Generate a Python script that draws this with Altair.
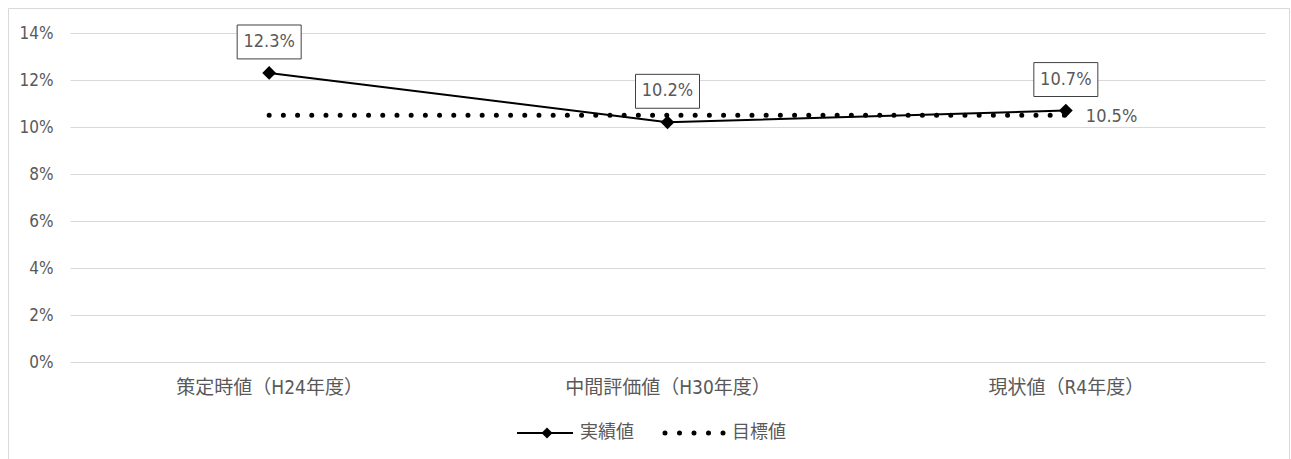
import altair as alt
import pandas as pd

# Stages, measured values and the target value
stages = ["策定時値（H24年度）", "中間評価値（H30年度）", "現状値（R4年度）"]
actual = [12.3, 10.2, 10.7]
target = [10.5, 10.5, 10.5]
series_names = ["実績値", "目標値"]
y_ticks = [0, 2, 4, 6, 8, 10, 12, 14]

FONT = "DejaVu Sans Condensed, Noto Sans CJK JP, sans-serif"
TEXT = "#595959"
GRID = "#d9d9d9"

df = pd.DataFrame({"stage": stages, "actual": actual, "target": target})
df["actual_label"] = [f"{v:.1f}%" for v in actual]
df["target_label"] = [f"{v:.1f}%" for v in target]

x_axis = alt.Axis(
    title=None, labelAngle=0, domain=False, ticks=False, grid=False,
    labelPadding=16, labelFontSize=19, labelColor=TEXT, labelFont=FONT,
    labelLimit=0,
)
y_axis = alt.Axis(
    values=y_ticks, labelExpr="datum.value + '%'", title=None,
    domain=False, ticks=False, labelPadding=17, grid=True,
    gridColor=GRID, gridWidth=1, labelFontSize=17, labelColor=TEXT,
    labelFont=FONT,
)
y_scale = alt.Scale(domain=[0, 14])
x_scale = alt.Scale(type="point", padding=0.5)


def xy(field):
    return dict(
        x=alt.X("stage:N", sort=stages, scale=x_scale, axis=x_axis),
        y=alt.Y(f"{field}:Q", scale=y_scale, axis=y_axis),
    )


base = alt.Chart(df)

# outer frame of the chart area
frame = alt.Chart(pd.DataFrame({"k": [0]})).mark_rect(
    fillOpacity=0, stroke=GRID, strokeWidth=1
).encode(
    x=alt.value(-61.5), x2=alt.value(1219.5), y=alt.value(-24.5), y2=alt.value(440)
)

target_line = base.mark_line(
    color="black", strokeWidth=5, strokeDash=[0, 14.2], strokeCap="round"
).encode(**xy("target"))

actual_line = base.mark_line(color="black", strokeWidth=2).encode(**xy("actual"))

actual_pts = base.mark_point(
    shape="diamond", size=190, filled=True, color="black", opacity=1
).encode(**xy("actual"))

label_box = base.mark_point(
    shape="M-1,-0.53H1V0.53H-1Z", size=4096, fill="white", stroke="#404040",
    strokeWidth=1, opacity=1, fillOpacity=1, strokeOpacity=1, yOffset=-31,
).encode(**xy("actual"))

label_text = base.mark_text(
    dy=-31, fontSize=18, color=TEXT, font=FONT
).encode(text="actual_label:N", **xy("actual"))

target_text = alt.Chart(df.iloc[[-1]]).mark_text(
    align="left", dx=20, dy=2, fontSize=18, color=TEXT, font=FONT
).encode(text="target_label:N", **xy("target"))

# legend drawn below the plot
leg_df = pd.DataFrame({"name": [series_names[0]]})
leg_df2 = pd.DataFrame({"name": [series_names[1]]})
leg_rule = alt.Chart(leg_df).mark_rule(color="black", strokeWidth=2).encode(
    x=alt.value(447), x2=alt.value(503), y=alt.value(400)
)
leg_diamond = alt.Chart(leg_df).mark_point(
    shape="diamond", size=120, filled=True, color="black", opacity=1
).encode(x=alt.value(477), y=alt.value(400))
leg_text1 = alt.Chart(leg_df).mark_text(
    align="left", fontSize=18, color=TEXT, font=FONT
).encode(x=alt.value(510), y=alt.value(400), text="name:N")
leg_dots = alt.Chart(leg_df2).mark_rule(
    color="black", strokeWidth=5, strokeDash=[0, 14.5], strokeCap="round"
).encode(x=alt.value(595), x2=alt.value(656), y=alt.value(400))
leg_text2 = alt.Chart(leg_df2).mark_text(
    align="left", fontSize=18, color=TEXT, font=FONT
).encode(x=alt.value(662), y=alt.value(400), text="name:N")

chart = alt.layer(
    frame, target_line, actual_line, actual_pts, label_box, label_text,
    target_text, leg_rule, leg_diamond, leg_text1, leg_dots, leg_text2,
).properties(
    width=1195, height=329,
    autosize=alt.AutoSizeParams(type="none"),
    padding={"left": 70, "top": 33, "right": 26, "bottom": 97},
).configure_view(stroke=None)

chart.save("out.html", embed_options={"renderer": "svg", "actions": False})
